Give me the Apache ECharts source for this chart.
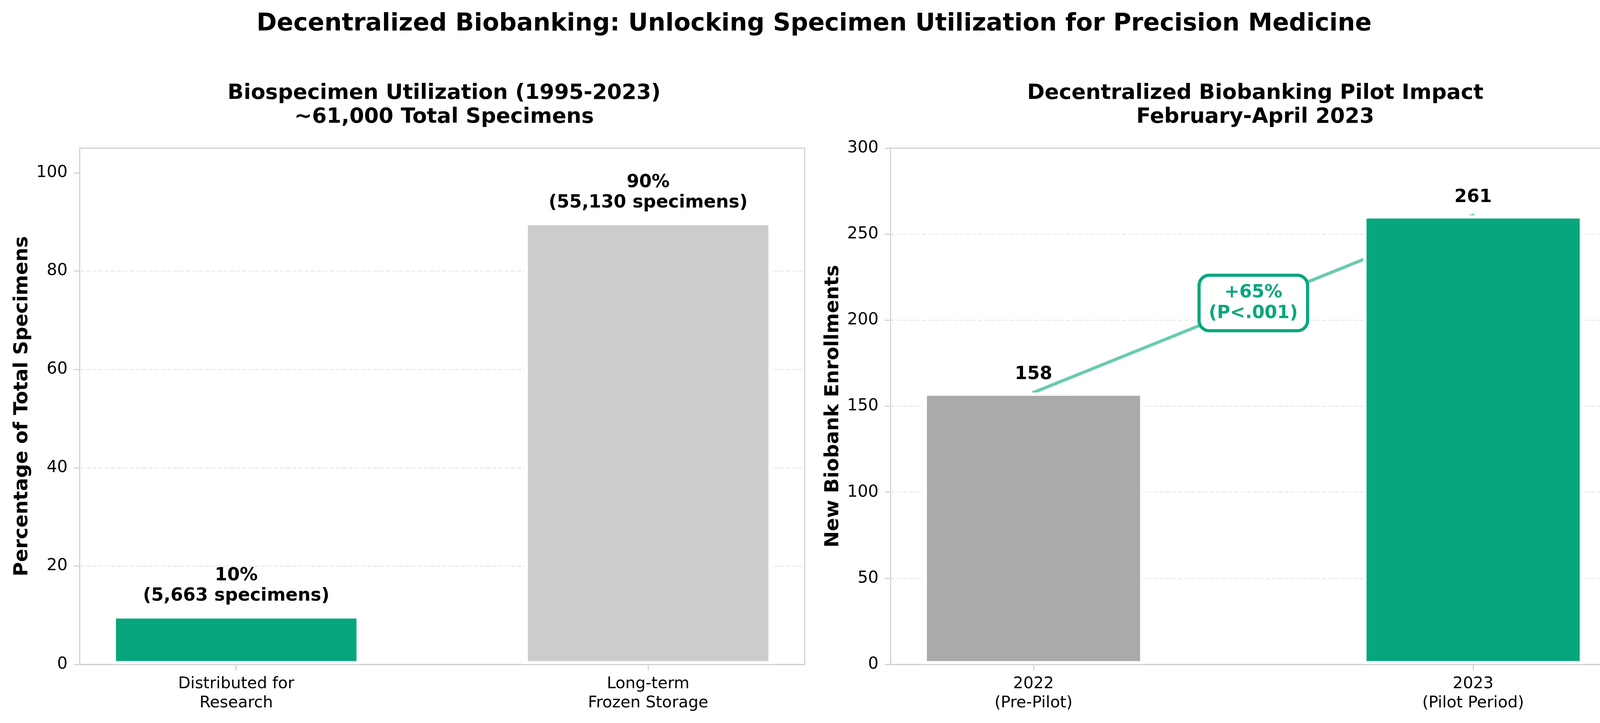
<!DOCTYPE html>
<html>
<head>
<meta charset="utf-8">
<script src="https://cdn.jsdelivr.net/npm/echarts@6/dist/echarts.min.js"></script>
<style>
html, body { margin: 0; padding: 0; background: #ffffff; }
#chart { width: 4168px; height: 1850px; }
</style>
</head>
<body>
<div id="chart"></div>
<script>
// ---------- data ----------
const mainTitle = 'Decentralized Biobanking: Unlocking Specimen Utilization for Precision Medicine';
const leftTitle = 'Biospecimen Utilization (1995-2023)\n~61,000 Total Specimens';
const rightTitle = 'Decentralized Biobanking Pilot Impact\nFebruary-April 2023';

const utilCategories = ['Distributed for\nResearch', 'Long-term\nFrozen Storage'];
const utilPercent = [10, 90];
const utilCounts = ['5,663', '55,130'];
const utilTicks = [0, 20, 40, 60, 80, 100];
const utilAxisName = 'Percentage of Total Specimens';

const pilotCategories = ['2022\n(Pre-Pilot)', '2023\n(Pilot Period)'];
const pilotEnrollments = [158, 261];
const pilotTicks = [0, 50, 100, 150, 200, 250, 300];
const pilotAxisName = 'New Biobank Enrollments';

const changeText = '+65%\n(P<.001)';
const changeAnchor = [0.5, 210];   // data coordinates of the annotation box

// ---------- styles ----------
const GREEN = '#06A77D';
const utilColors = [GREEN, '#CCCCCC'];
const pilotColors = ['#AAAAAA', GREEN];
const FRAME = '#CCCCCC';
const FONT = 'DejaVu Sans';

const leftGrid = { left: 204, top: 379, width: 1856, height: 1321 };
const rightGrid = { left: 2280, top: 379, width: 1857, height: 1321 };
const utilX = [-0.38, 1.38];
const pilotX = [-0.325, 1.325];
const utilBarPx = leftGrid.width / (utilX[1] - utilX[0]) * 0.6;
const pilotBarPx = rightGrid.width / (pilotX[1] - pilotX[0]) * 0.5;

function xAxisCfg(gridIndex, ext, cats) {
  return {
    type: 'value', gridIndex: gridIndex, min: ext[0], max: ext[1], z: 5,
    splitLine: { show: false },
    axisLine: { show: true, onZero: false, lineStyle: { color: FRAME, width: 2.5 } },
    axisTick: { show: true, customValues: cats.map((c, i) => i), length: 15, lineStyle: { color: FRAME, width: 2.5 } },
    axisLabel: {
      show: true, customValues: cats.map((c, i) => i),
      formatter: v => cats[Math.round(v)],
      fontFamily: FONT, fontSize: 41, lineHeight: 49, color: '#000', margin: 26
    }
  };
}
function yAxisCfg(gridIndex, max, interval, ticks, name) {
  return {
    type: 'value', gridIndex: gridIndex, min: 0, max: max, interval: interval, position: 'left',
    name: name, nameLocation: 'middle', nameRotate: 90, nameGap: 122,
    nameTextStyle: { fontFamily: FONT, fontSize: 50, fontWeight: 'bold', color: '#000' },
    axisLine: { show: false, onZero: false },
    axisTick: { show: true, customValues: ticks, length: 15, lineStyle: { color: FRAME, width: 2.5 } },
    axisLabel: { show: true, customValues: ticks, fontFamily: FONT, fontSize: 42, color: '#000', margin: 31 },
    splitLine: { show: true, showMinLine: false, showMaxLine: false,
      lineStyle: { color: '#e8e8e8', width: 2.5, type: [11, 5] } }
  };
}

const chart = echarts.init(document.getElementById('chart'), null, { renderer: 'canvas' });
chart.setOption({
  backgroundColor: '#ffffff',
  animation: false,
  title: [
    { text: mainTitle, left: 'center', top: 25,
      textStyle: { fontFamily: FONT, fontSize: 62.5, fontWeight: 'bold', color: '#000' } },
    { text: leftTitle, left: leftGrid.left + leftGrid.width / 2, textAlign: 'center', top: 203,
      textStyle: { fontFamily: FONT, fontSize: 54, fontWeight: 'bold', color: '#000', lineHeight: 61 } },
    { text: rightTitle, left: rightGrid.left + rightGrid.width / 2, textAlign: 'center', top: 203,
      textStyle: { fontFamily: FONT, fontSize: 54, fontWeight: 'bold', color: '#000', lineHeight: 61 } }
  ],
  grid: [
    Object.assign({ show: true, borderColor: FRAME, borderWidth: 2.5, containLabel: false }, leftGrid),
    Object.assign({ show: true, borderColor: FRAME, borderWidth: 2.5, containLabel: false }, rightGrid)
  ],
  xAxis: [xAxisCfg(0, utilX, utilCategories), xAxisCfg(1, pilotX, pilotCategories)],
  yAxis: [yAxisCfg(0, 105, 20, utilTicks, utilAxisName), yAxisCfg(1, 300, 50, pilotTicks, pilotAxisName)],
  series: [
    {
      type: 'bar', xAxisIndex: 0, yAxisIndex: 0, barWidth: utilBarPx, z: 2,
      data: utilPercent.map((v, i) => ({ value: [i, v], itemStyle: { color: utilColors[i] } })),
      itemStyle: { borderColor: '#ffffff', borderWidth: 8.5 },
      label: {
        show: true, position: 'top', distance: 23,
        formatter: p => utilPercent[p.dataIndex] + '%\n(' + utilCounts[p.dataIndex] + ' specimens)',
        fontFamily: FONT, fontSize: 46, fontWeight: 'bold', lineHeight: 52, color: '#000'
      }
    },
    {
      type: 'line', xAxisIndex: 1, yAxisIndex: 1, z: 1, symbol: 'none',
      data: pilotEnrollments.map((v, i) => [i, v]),
      lineStyle: { color: GREEN, opacity: 0.6, width: 8, cap: 'round' }
    },
    {
      type: 'bar', xAxisIndex: 1, yAxisIndex: 1, barWidth: pilotBarPx, z: 2,
      data: pilotEnrollments.map((v, i) => ({ value: [i, v], itemStyle: { color: pilotColors[i] } })),
      itemStyle: { borderColor: '#ffffff', borderWidth: 8.5 },
      label: {
        show: true, position: 'top', distance: 20,
        formatter: p => String(pilotEnrollments[p.dataIndex]),
        fontFamily: FONT, fontSize: 46, fontWeight: 'bold', lineHeight: 52, color: '#000'
      }
    },
    {
      type: 'scatter', xAxisIndex: 1, yAxisIndex: 1, z: 10, symbolSize: 0,
      itemStyle: { opacity: 1 },
      data: [changeAnchor],
      label: {
        show: true, position: 'inside', formatter: changeText, opacity: 1,
        fontFamily: FONT, fontSize: 46, fontWeight: 'bold', lineHeight: 53, color: GREEN,
        backgroundColor: '#ffffff', borderColor: GREEN, borderWidth: 8, borderRadius: 22,
        padding: [14, 21]
      }
    }
  ]
});
</script>
</body>
</html>
